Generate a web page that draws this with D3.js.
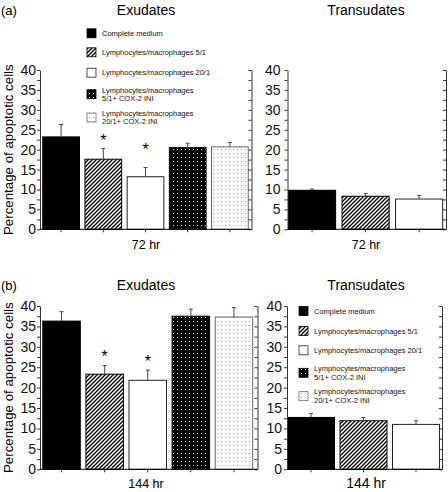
<!DOCTYPE html>
<html><head><meta charset="utf-8">
<script src="https://cdn.jsdelivr.net/npm/d3@7"></script>
<style>
body{margin:0;background:#fff}
svg{display:block;font-family:"Liberation Sans",Arial,Helvetica,sans-serif}
</style>
</head><body><svg id="c" width="448" height="492"></svg>
<script>
// ---------------- DATA ----------------
const categories = [
  "Complete medium",
  "Lymphocytes/macrophages 5/1",
  "Lymphocytes/macrophages 20/1",
  "Lymphocytes/macrophages 5/1+ COX-2 INI",
  "Lymphocytes/macrophages 20/1+ COX-2 INI"
];
const legendLines = [
  ["Complete medium"],
  ["Lymphocytes/macrophages 5/1"],
  ["Lymphocytes/macrophages 20/1"],
  ["Lymphocytes/macrophages", "5/1+ COX-2 INI"],
  ["Lymphocytes/macrophages", "20/1+ COX-2 INI"]
];
const transCategories = categories.slice(0, 3);

const exudates72 = [23.2, 17.6, 13.2, 20.5, 20.7];
const exudates72Err = [3.1, 2.7, 2.3, 1.1, 1.1];
const exudates72Star = [null, 23.3, 20.8, null, null];

const transudates72 = [9.8, 8.3, 7.6];
const transudates72Err = [0.3, 0.7, 0.9];

const exudates144 = [36.3, 23.3, 21.8, 37.5, 37.3];
const exudates144Err = [2.3, 2.1, 2.5, 1.7, 2.3];
const exudates144Star = [null, 28.4, 27.2, null, null];

const transudates144 = [12.7, 11.9, 11.0];
const transudates144Err = [1.0, 0.8, 0.9];

const yTicks = [0, 5, 10, 15, 20, 25, 30, 35, 40];
const yMinorTicks = [2.5, 7.5, 12.5, 17.5, 22.5, 27.5, 32.5, 37.5];
const yDomain = [0, 40];

// ---------------- STYLE ----------------
const fills = ["#000", "url(#hatch)", "#fff", "url(#dotDark)", "url(#dotLight)"];
const strokes = ["#000", "#000", "#222", "#000", "#666"];
const FONT_TICK = 14, FONT_TITLE = 14, FONT_LEG = 7.5;

const svg = d3.select("#c");
const defs = svg.append("defs");

const HP = 4;
const hatch = defs.append("pattern").attr("id", "hatch")
  .attr("patternUnits", "userSpaceOnUse").attr("width", HP).attr("height", HP);
hatch.append("rect").attr("width", HP).attr("height", HP).attr("fill", "#fff");
hatch.append("path").attr("d", `M-1,1 L1,-1 M0,${HP} L${HP},0 M${HP-1},${HP+1} L${HP+1},${HP-1}`)
  .attr("stroke", "#000").attr("stroke-width", 1.3);

const dd = defs.append("pattern").attr("id", "dotDark")
  .attr("patternUnits", "userSpaceOnUse").attr("width", 4).attr("height", 4);
dd.append("rect").attr("width", 4).attr("height", 4).attr("fill", "#000");
dd.append("rect").attr("x", 1).attr("y", 1).attr("width", 1).attr("height", 1).attr("fill", "#fff");

const dl = defs.append("pattern").attr("id", "dotLight")
  .attr("patternUnits", "userSpaceOnUse").attr("width", 4).attr("height", 4);
dl.append("rect").attr("width", 4).attr("height", 4).attr("fill", "#fff");
dl.append("rect").attr("x", 1).attr("y", 1).attr("width", 1).attr("height", 1).attr("fill", "#999");

// ---------------- PANEL ----------------
function panel(o) {
  const g = svg.append("g");
  const y = d3.scaleLinear().domain(yDomain).range([o.yBottom, o.yTop]);
  const x = d3.scaleBand().domain(o.cats).range([o.bandStart, o.bandEnd])
    .paddingInner(o.pi).paddingOuter(o.po);
  const cx = i => x(o.cats[i]) + x.bandwidth() / 2;

  // bars
  g.selectAll("rect.bar").data(o.vals).join("rect")
    .attr("class", "bar")
    .attr("x", (d, i) => x(o.cats[i]))
    .attr("width", x.bandwidth())
    .attr("y", d => y(d))
    .attr("height", d => y(0) - y(d))
    .attr("fill", (d, i) => fills[i])
    .attr("stroke", (d, i) => strokes[i])
    .attr("stroke-width", 1);

  // error bars (upper only)
  const eb = g.selectAll("g.err").data(o.vals).join("g").attr("class", "err")
    .attr("stroke", "#444").attr("stroke-width", 1);
  eb.append("line")
    .attr("x1", (d, i) => cx(i)).attr("x2", (d, i) => cx(i))
    .attr("y1", d => y(d))
    .attr("y2", (d, i) => y(d + o.errs[i]));
  eb.append("line")
    .attr("x1", (d, i) => cx(i) - 2).attr("x2", (d, i) => cx(i) + 2)
    .attr("y1", (d, i) => y(d + o.errs[i]))
    .attr("y2", (d, i) => y(d + o.errs[i]));

  // significance stars
  if (o.stars) {
    o.stars.forEach((s, i) => {
      if (s == null) return;
      g.append("text")
        .attr("x", cx(i))
        .attr("y", y(s) + 9)
        .attr("text-anchor", "middle")
        .attr("font-size", 16)
        .text("*");
    });
  }

  // left axis
  const axL = g.append("g").attr("transform", `translate(${o.axisLeft},0)`)
    .call(d3.axisLeft(y).tickValues(yTicks).tickSize(3).tickSizeOuter(0).tickPadding(o.tickPad || 1));
  axL.selectAll("text").attr("font-size", FONT_TICK).attr("font-family", "Liberation Sans, Arial, sans-serif").attr("fill", "#111");
  g.append("g").attr("transform", `translate(${o.axisLeft},0)`)
    .call(d3.axisLeft(y).tickValues(yMinorTicks).tickSize(3).tickSizeOuter(0).tickFormat(""))
    .select(".domain").remove();

  // right axis (inward ticks, no labels)
  g.append("g").attr("transform", `translate(${o.axisRight},0)`)
    .call(d3.axisRight(y).tickValues(yTicks.concat(yMinorTicks)).tickSize(-3).tickSizeOuter(0).tickFormat(""));

  // baseline + category ticks
  g.append("line").attr("x1", o.axisLeft).attr("x2", o.axisRight)
    .attr("y1", y(0)).attr("y2", y(0)).attr("stroke", "#000");
  g.append("g").attr("transform", `translate(0,${y(0)})`)
    .call(d3.axisBottom(x).tickSize(3).tickSizeOuter(0).tickFormat(""))
    .select(".domain").remove();

  g.selectAll(".tick line, .domain").attr("stroke", "#333");

  // titles
  g.append("text").attr("x", o.titleX).attr("y", o.titleY)
    .attr("text-anchor", "middle").attr("font-size", FONT_TITLE).text(o.title);
  g.append("text").attr("x", o.titleX).attr("y", o.xlabelY)
    .attr("text-anchor", "middle").attr("font-size", o.xlabelSize).text(o.xlabel);

  if (o.yLabel) {
    g.append("text").attr("transform", `translate(13,${(o.yTop + o.yBottom) / 2}) rotate(-90)`)
      .attr("text-anchor", "middle").attr("font-size", 13.3).text(o.yLabel);
  }
}

function legend(lx, tx, rows, off) {
  const g = svg.append("g");
  categories.forEach((c, i) => {
    const cy = rows[i];
    g.append("rect").attr("x", lx).attr("y", cy - 4.5).attr("width", 9).attr("height", 9)
      .attr("fill", fills[i]).attr("stroke", strokes[i]).attr("stroke-width", 0.8);
    const lines = legendLines[i];
    lines.forEach((t, j) => {
      const ly = lines.length === 1 ? cy : cy + (j === 0 ? -off : off);
      g.append("text").attr("x", tx).attr("y", ly + 2.7)
        .attr("font-size", FONT_LEG).attr("fill", "#111").text(t);
    });
  });
}

// Panel (a)
svg.append("text").attr("x", 1).attr("y", 15).attr("font-size", 13).text("(a)");
panel({cats: categories, vals: exudates72, errs: exudates72Err, stars: exudates72Star,
  bandStart: 40, bandEnd: 251, pi: 0.13, po: 0.065, axisLeft: 40, axisRight: 251.5,
  yTop: 70, yBottom: 229.3, title: "Exudates", titleX: 146, titleY: 15,
  xlabel: "72 hr", xlabelY: 249, xlabelSize: 12.5, yLabel: "Percentage of apoptotic cells"});
panel({cats: transCategories, vals: transudates72, errs: transudates72Err,
  bandStart: 288, bandEnd: 443.2, pi: 0.12, po: 0.01, axisLeft: 287.5, axisRight: 446,
  yTop: 70, yBottom: 229.3, title: "Transudates", titleX: 366, titleY: 15, tickPad: 4,
  xlabel: "72 hr", xlabelY: 249, xlabelSize: 12.5});
legend(87, 102, [33.3, 52.3, 72.7, 94.2, 117.5], 4.2);

// Panel (b)
svg.append("text").attr("x", 1).attr("y", 290).attr("font-size", 13).text("(b)");
panel({cats: categories, vals: exudates144, errs: exudates144Err, stars: exudates144Star,
  bandStart: 40, bandEnd: 255.5, pi: 0.13, po: 0.065, axisLeft: 40, axisRight: 257.5,
  yTop: 306, yBottom: 469.3, title: "Exudates", titleX: 146, titleY: 290,
  xlabel: "144 hr", xlabelY: 488, xlabelSize: 12.5, yLabel: "Percentage of apoptotic cells"});
panel({cats: transCategories, vals: transudates144, errs: transudates144Err,
  bandStart: 287, bandEnd: 440, pi: 0.105, po: 0.01, axisLeft: 287, axisRight: 442,
  yTop: 306, yBottom: 469.3, title: "Transudates", titleX: 366, titleY: 290, tickPad: 2,
  xlabel: "144 hr", xlabelY: 488, xlabelSize: 14});
legend(299, 314, [311, 331, 350.3, 372.8, 396.2], 4.5);
</script>
</body></html>
